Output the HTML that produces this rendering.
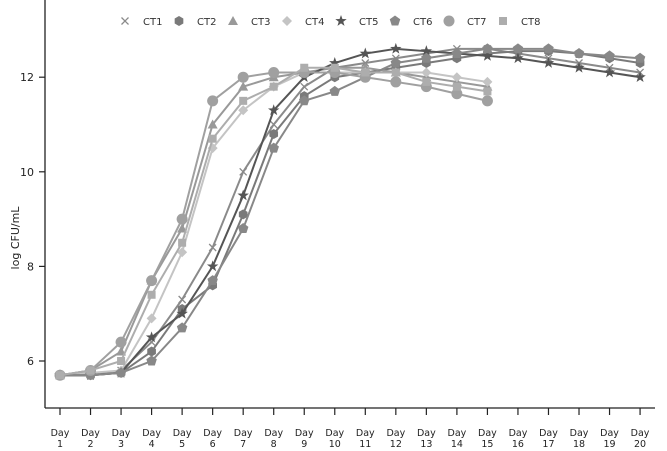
<!DOCTYPE html>
<html><head><meta charset="utf-8"><style>
html,body{margin:0;padding:0;background:#fff;}
svg{display:block;font-family:"DejaVu Sans","Liberation Sans",sans-serif;}
</style></head><body>
<svg id="c" width="667" height="451" viewBox="0 0 667 451" xmlns="http://www.w3.org/2000/svg">
<rect width="667" height="451" fill="#fff"/>
<line x1="45" y1="0" x2="45" y2="408" stroke="#222" stroke-width="1.3"/>
<line x1="45" y1="408" x2="655" y2="408" stroke="#222" stroke-width="1.3"/>
<text transform="translate(19,238) rotate(-90)" text-anchor="middle" font-size="11" fill="#222">log CFU/mL</text>
</svg>
<script>
const s=document.getElementById('c'),NS='http://www.w3.org/2000/svg';
function el(t,a,txt){const e=document.createElementNS(NS,t);for(const k in a)e.setAttribute(k,a[k]);if(txt!=null)e.textContent=txt;s.appendChild(e);return e;}
const X=d=>60+(d-1)*30.53, Y=v=>361-(v-6)*47.3;
[6,8,10,12].forEach(v=>{el('line',{x1:39,y1:Y(v),x2:45,y2:Y(v),stroke:'#222','stroke-width':1.2});el('text',{x:34,y:Y(v)+4,'text-anchor':'end','font-size':11,fill:'#222'},v);});
for(let d=1;d<=20;d++){el('line',{x1:X(d),y1:408,x2:X(d),y2:415,stroke:'#222','stroke-width':1.2});el('text',{x:X(d),y:436,'text-anchor':'middle','font-size':9.5,fill:'#222'},'Day');el('text',{x:X(d),y:447,'text-anchor':'middle','font-size':9.5,fill:'#222'},d);}
function marker(k,x,y,c){
 if(k=='x'){el('path',{d:`M${x-3.5} ${y-3.5}L${x+3.5} ${y+3.5}M${x-3.5} ${y+3.5}L${x+3.5} ${y-3.5}`,stroke:c,'stroke-width':1.3});}
 else if(k=='hex'){let p=[];for(let i=0;i<6;i++){let a=Math.PI/3*i+Math.PI/6;p.push((x+5*Math.cos(a))+','+(y+5*Math.sin(a)));}el('polygon',{points:p.join(' '),fill:c});}
 else if(k=='tri'){el('polygon',{points:`${x},${y-5} ${x+5},${y+4} ${x-5},${y+4}`,fill:c});}
 else if(k=='dia'){el('polygon',{points:`${x},${y-5} ${x+5},${y} ${x},${y+5} ${x-5},${y}`,fill:c});}
 else if(k=='star'){let p=[];for(let i=0;i<10;i++){let r=i%2?2.4:6,a=-Math.PI/2+Math.PI/5*i;p.push((x+r*Math.cos(a))+','+(y+r*Math.sin(a)));}el('polygon',{points:p.join(' '),fill:c});}
 else if(k=='pent'){let p=[];for(let i=0;i<5;i++){let a=-Math.PI/2+2*Math.PI/5*i;p.push((x+5.5*Math.cos(a))+','+(y+5.5*Math.sin(a)));}el('polygon',{points:p.join(' '),fill:c});}
 else if(k=='cir'){el('circle',{cx:x,cy:y,r:5.5,fill:c});}
 else if(k=='sq'){el('rect',{x:x-4,y:y-4,width:8,height:8,fill:c});}
}
const S=[
 ['CT1','x','#8a8a8a',[5.7,5.7,5.8,6.4,7.3,8.4,10.0,11.0,11.8,12.2,12.3,12.4,12.5,12.6,12.6,12.5,12.4,12.3,12.2,12.1]],
 ['CT2','hex','#7a7a7a',[5.7,5.7,5.75,6.2,7.1,7.6,9.1,10.8,11.6,12.0,12.1,12.2,12.3,12.4,12.5,12.55,12.55,12.5,12.4,12.3]],
 ['CT3','tri','#999',[5.7,5.8,6.2,7.7,8.8,11.0,11.8,12.0,12.1,12.2,12.2,12.1,12.0,11.9,11.8]],
 ['CT4','dia','#c4c4c4',[5.7,5.75,5.8,6.9,8.3,10.5,11.3,11.8,12.1,12.1,12.1,12.1,12.1,12.0,11.9]],
 ['CT5','star','#555',[5.7,5.7,5.75,6.5,7.0,8.0,9.5,11.3,12.0,12.3,12.5,12.6,12.55,12.5,12.45,12.4,12.3,12.2,12.1,12.0]],
 ['CT6','pent','#888',[5.7,5.7,5.75,6.0,6.7,7.7,8.8,10.5,11.5,11.7,12.0,12.3,12.4,12.5,12.6,12.6,12.6,12.5,12.45,12.4]],
 ['CT7','cir','#a0a0a0',[5.7,5.8,6.4,7.7,9.0,11.5,12.0,12.1,12.1,12.1,12.0,11.9,11.8,11.65,11.5]],
 ['CT8','sq','#adadad',[5.7,5.8,6.0,7.4,8.5,10.7,11.5,11.8,12.2,12.2,12.1,12.1,11.9,11.8,11.7]]
];
S.forEach(([n,k,c,d],i)=>{
 el('polyline',{points:d.map((v,j)=>X(j+1)+','+Y(v)).join(' '),fill:'none',stroke:c,'stroke-width':2});
 d.forEach((v,j)=>marker(k,X(j+1),Y(v),c));
 const lx=125+i*54;marker(k,lx,21,c);el('text',{x:lx+18,y:25,'font-size':10,fill:'#333'},n);
});
</script>
</body></html>
